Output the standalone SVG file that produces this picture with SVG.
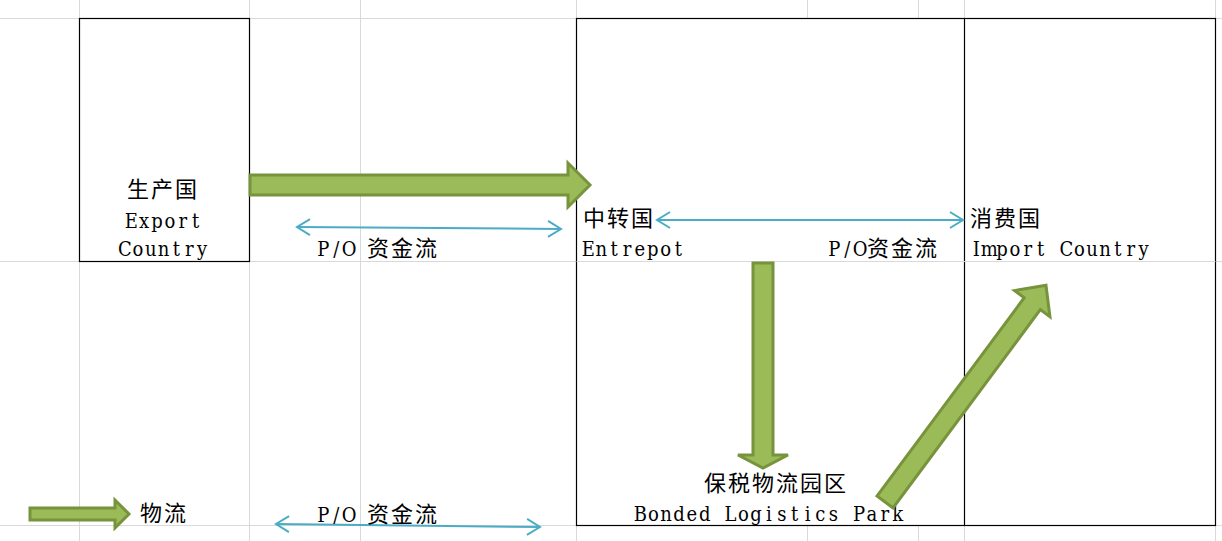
<svg xmlns="http://www.w3.org/2000/svg" width="1222" height="541" viewBox="0 0 1222 541">
<style>
.grid{stroke:#d9d9d9;stroke-width:1;fill:none}
.box{stroke:#000;stroke-width:1.2;fill:#fff}
.flow{fill:#9bbb59;stroke:#77933c;stroke-width:3;stroke-linejoin:miter}
.money{stroke:#4bacc6;stroke-width:2;fill:none;marker-start:url(#ch);marker-end:url(#ch)}
text{font-family:"DejaVu Serif Condensed","DejaVu Serif","Noto Sans CJK SC",serif;font-stretch:condensed;font-size:20px;fill:#000}
.lat{text-anchor:middle}
.cjk{font-family:"Noto Sans CJK SC","DejaVu Serif",sans-serif;font-stretch:normal;font-size:22px;letter-spacing:2px}
</style>
<defs>
<marker id="ch" markerUnits="userSpaceOnUse" markerWidth="30" markerHeight="30" viewBox="-15 -15 30 30" refX="0" refY="0" orient="auto-start-reverse" overflow="visible">
<path d="M-13,-8 L0,0 L-13,8" fill="none" stroke="#4bacc6" stroke-width="2"/>
</marker>
</defs>
<rect width="1222" height="541" fill="#fff"/>
<g id="gridlines">
<line class="grid" x1="0" y1="18.5" x2="1222" y2="18.5"/>
<line class="grid" x1="0" y1="261.5" x2="1222" y2="261.5"/>
<line class="grid" x1="0" y1="525.5" x2="1222" y2="525.5"/>
<line class="grid" x1="79.5" y1="0" x2="79.5" y2="541"/>
<line class="grid" x1="249.5" y1="0" x2="249.5" y2="541"/>
<line class="grid" x1="360.5" y1="0" x2="360.5" y2="541"/>
<line class="grid" x1="576.5" y1="0" x2="576.5" y2="541"/>
<line class="grid" x1="807.5" y1="0" x2="807.5" y2="18"/>
<line class="grid" x1="918.5" y1="0" x2="918.5" y2="18"/>
<line class="grid" x1="807.5" y1="525" x2="807.5" y2="541"/>
<line class="grid" x1="918.5" y1="525" x2="918.5" y2="541"/>
<line class="grid" x1="964.5" y1="0" x2="964.5" y2="541"/>
<line class="grid" x1="1215.5" y1="0" x2="1215.5" y2="541"/>
</g>
<g id="entrepot-region">
<rect class="box" x="576.5" y="18.5" width="639" height="507"/>
<line x1="964.5" y1="18.5" x2="964.5" y2="525.5" stroke="#000" stroke-width="1.2"/>
<line class="grid" x1="576.5" y1="261.5" x2="1215.5" y2="261.5"/>
</g>
<g id="export-country">
<rect class="box" x="79.5" y="18.5" width="170" height="243"/>
<text class="cjk" x="127" y="197">生产国</text>
<text class="lat" x="131.3 144.2 157.1 169.9 182.8 195.7" y="228">Export</text>
<text class="lat" x="124.9 137.8 150.7 163.5 176.4 189.2 202.1" y="256">Country</text>
</g>
<g id="entrepot">
<text class="cjk" x="583" y="226">中转国</text>
<text class="lat" x="588.4 601.3 614.2 627.0 639.9 652.7 665.6 678.4" y="256">Entrepot</text>
</g>
<g id="import-country">
<text class="cjk" x="970" y="226">消费国</text>
<text class="lat" x="976.4 989.3 1002.1 1015.0 1027.9 1040.7 1053.6 1066.4 1079.3 1092.1 1105.0 1117.9 1130.7 1143.6" y="256">Import Country</text>
</g>
<g id="bonded-park">
<text class="cjk" x="704" y="491">保税物流园区</text>
<text class="lat" x="640.4 653.3 666.1 679.0 691.9 704.7 717.6 730.4 743.3 756.1 769.0 781.9 794.7 807.6 820.4 833.3 846.1 859.0 871.9 884.7 897.6" y="521">Bonded Logistics Park</text>
</g>
<g id="connectors">
<polygon class="flow" points="250,175 568,175 568,163 590,185 568,207 568,195 250,195"/>
<polygon class="flow" points="753,263 773,263 773,455 788,455 763,468 738,455 753,455"/>
<polygon class="flow" transform="translate(885,502) rotate(-53.4)" points="0,-10 247,-10 247,-22 270,0 247,22 247,10 0,10"/>
<line class="money" x1="297" y1="227" x2="561" y2="229"/>
<line class="money" x1="657" y1="220" x2="963" y2="220"/>
<text class="lat" x="323.4 336.3 349.2" y="256">P/O</text>
<text class="cjk" x="367" y="256">资金流</text>
<text class="lat" x="834.4 847.3 860.2" y="256">P/O</text>
<text class="cjk" x="867" y="256">资金流</text>
</g>
<g id="legend">
<polygon class="flow" points="30,508 115,508 115,500 129,514 115,528 115,520 30,520"/>
<text class="cjk" x="140" y="521">物流</text>
<line class="money" x1="276" y1="524" x2="540" y2="527"/>
<text class="lat" x="323.4 336.3 349.2" y="522">P/O</text>
<text class="cjk" x="367" y="522">资金流</text>
</g>
</svg>
